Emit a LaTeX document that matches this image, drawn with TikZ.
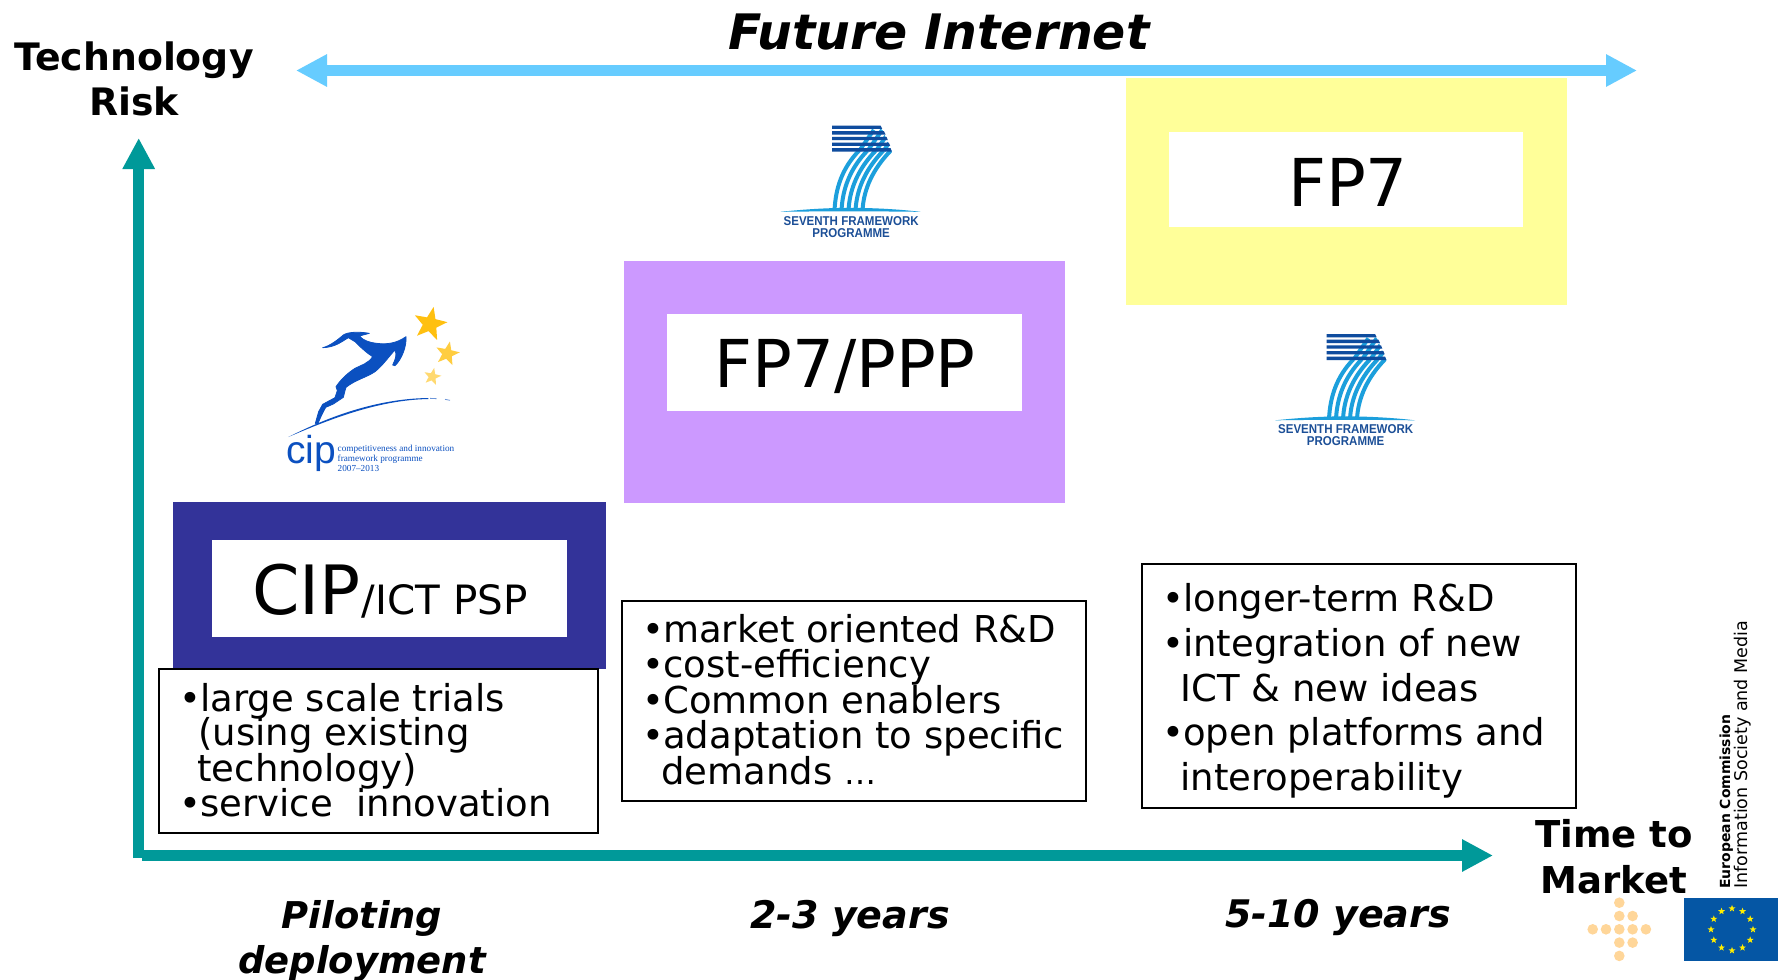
\documentclass[tikz,border=0pt]{standalone}
\usepackage{fontspec}
\setmainfont{DejaVu Sans}
\newfontfamily\liberasans{Liberation Sans}
\newfontfamily\liberaserif{Liberation Serif}
\newfontfamily\logosans[FakeStretch=0.9]{Liberation Sans Bold}
\usetikzlibrary{arrows.meta,shapes.geometric}
\definecolor{teal}{HTML}{009999}
\definecolor{sky}{HTML}{66CCFF}
\definecolor{pale}{HTML}{FFFF99}
\definecolor{lilac}{HTML}{CC99FF}
\definecolor{navy}{HTML}{333399}
\definecolor{fpdark}{HTML}{0F4C9E}
\definecolor{fplight}{HTML}{1C9FDC}
\definecolor{fptext}{HTML}{1C4F97}
\definecolor{cipblue}{HTML}{0B50C0}
\definecolor{gold}{HTML}{FFC010}
\definecolor{dotc}{HTML}{FFD699}
\definecolor{euflag}{HTML}{0556A4}
\definecolor{eustar}{HTML}{FFED00}
\newcommand{\itembul}{•\kern-0.5pt}
\tikzset{
  x=0.5pt,y=-0.5pt,
  axisline/.style={teal,line width=5.4pt,-{Triangle[length=15.5pt,width=15.2pt]}},
  spanline/.style={sky,line width=5.4pt,{Triangle[length=15.5pt,width=15.2pt]}-{Triangle[length=15.5pt,width=15.2pt]}},
  band/.style={anchor=north west,inner sep=0,outer sep=0},
  inset/.style={band,fill=white},
  listframe/.style={band,draw=black,line width=0.8pt,fill=white},
  bodyline/.style={anchor=base west,inner sep=0,font=\fontsize{18.5}{22}\selectfont},
  biglabel/.style={anchor=base,inner sep=0,font=\fontsize{33}{40}\selectfont},
  axislabel/.style={anchor=base,inner sep=0,font=\fontsize{18.5}{22}\selectfont\bfseries},
  slanted/.style={anchor=base,inner sep=0,font=\fontsize{18.45}{22}\selectfont\bfseries\itshape},
  dotmark/.style={circle,fill=dotc,inner sep=0,minimum size=5.3pt},
  starmark/.style={star,star points=5,star point ratio=2.4,inner sep=0,outer sep=0},
  fplogo/.pic={
    \begin{scope}[x=0.16667pt,y=-0.16667pt]
      \begin{scope}
        \clip (230,42) -- (375,42) -- (409,120) -- (230,120) -- cycle;
        \foreach \a in {310,335,360,383,405}{
          \draw[fplight,line width=2pt] (\a+45,55) -- (\a,120);
        }
      \end{scope}
      \foreach \a/\c in {310/237,335/258,360/279,383/300,405/321}{
        \draw[fplight,line width=2pt] (\a,118) .. controls (\a-50,170) and (\c+3,230) .. (\c,298);
      }
      \fill[fplight] (75,301) .. controls (150,293) and (220,289) .. (285,289)
        .. controls (350,289) and (430,293) .. (495,301) .. controls (350,299) and (200,299) .. (75,301) -- cycle;
      \fill[fpdark] (230,42) -- (375,42) -- (380,52) -- (230,52) -- cycle;
      \fill[fpdark] (230,59) -- (385,59) -- (390,69) -- (230,69) -- cycle;
      \fill[fpdark] (230,76) -- (393,76) -- (397,86) -- (230,86) -- cycle;
      \fill[fpdark] (230,93) -- (400,93) -- (404,103) -- (230,103) -- cycle;
      \fill[fpdark] (230,110) -- (405,110) -- (409,120) -- (230,120) -- cycle;
      \node (-a) at (287,341) [anchor=base,inner sep=0,text=fptext,font=\logosans\fontsize{6.4}{7}\selectfont] {SEVENTH FRAMEWORK};
      \node (-b) at (287,377) [anchor=base,inner sep=0,text=fptext,font=\logosans\fontsize{6.4}{7}\selectfont] {PROGRAMME};
    \end{scope}
  }
}
\begin{document}
\begin{tikzpicture}
\useasboundingbox (0,0) rectangle (1778,980);
\fill[white] (0,0) rectangle (1778,980);
% Axes
\coordinate (orig) at (138.7,858);
\coordinate (ytop) at (138.7,138);
\coordinate (xstart) at (142,855.5);
\coordinate (xend) at (1493,855.5);
\coordinate (spanl) at (296,70.5);
\coordinate (spanr) at (1637,70.5);
\draw[axisline] (orig) -- (ytop);
\draw[axisline] (xstart) -- (xend);
\draw[spanline] (spanl) -- (spanr);
% Titles
\node[slanted,font=\fontsize{24.45}{28}\selectfont\bfseries\itshape] (title) at (939,49) {Future Internet};
\node[axislabel,font=\fontsize{18.9}{22}\selectfont\bfseries] (tr1) at (134,70) {Technology};
\node[axislabel,font=\fontsize{18.9}{22}\selectfont\bfseries] (tr2) at (134,115) {Risk};
\node[axislabel] (tm1) at (1614,847) {Time to};
\node[axislabel] (tm2) at (1614,893) {Market};
\node[slanted] (p1) at (362,928) {Piloting};
\node[slanted] (p2) at (362,973) {deployment};
\node[slanted,font=\fontsize{19}{22}\selectfont\bfseries\itshape] (y23) at (850,928) {2-3 years};
\node[slanted,font=\fontsize{19}{22}\selectfont\bfseries\itshape] (y510) at (1338,927) {5-10 years};
% Coloured bands
\node[band,fill=pale,minimum width=220.5pt,minimum height=113.5pt] (fpband) at (1126,78) {};
\node[inset,minimum width=177pt,minimum height=47.7pt] (fpin) at (1169,131.5) {};
\node[biglabel] (fplab) at (1348,206) {FP7};
\node[band,fill=lilac,minimum width=220.5pt,minimum height=121pt] (ppband) at (624,261) {};
\node[inset,minimum width=177.5pt,minimum height=48.5pt] (ppin) at (667,314) {};
\node[biglabel] (pplab) at (845,387) {FP7/PPP};
\node[band,fill=navy,minimum width=216.5pt,minimum height=83.5pt] (cipband) at (173,502) {};
\node[inset,minimum width=177.5pt,minimum height=48.5pt] (cipin) at (212,540) {};
\node[anchor=base west,inner sep=0,font=\fontsize{34}{40}\selectfont] (ciplab) at (252,614) {CIP\kern0.5pt\fontsize{20.2}{24}\selectfont/ICT PSP};
% Lists
\node[listframe,minimum width=219.5pt,minimum height=82pt] (l1) at (159,669) {};
\node[bodyline] (l1a) at (179,711) {\itembul large scale trials};
\node[bodyline] (l1b) at (198,745.5) {(using existing};
\node[bodyline] (l1c) at (197,781) {technology)};
\node[bodyline] (l1d) at (179,816) {\itembul service\ \ innovation};
\node[listframe,minimum width=232pt,minimum height=100pt] (l2) at (622,601) {};
\node[bodyline] (l2a) at (642,642) {\itembul market oriented R\&D};
\node[bodyline] (l2b) at (642,677.5) {\itembul cost-efficiency};
\node[bodyline] (l2c) at (642,713) {\itembul Common enablers};
\node[bodyline] (l2d) at (642,748.5) {\itembul adaptation to specific};
\node[bodyline] (l2e) at (661,784.5) {demands {\fontsize{16}{20}\selectfont …}};
\node[listframe,minimum width=217pt,minimum height=122pt] (l3) at (1142,564) {};
\node[bodyline] (l3a) at (1162,611) {\itembul longer-term R\&D};
\node[bodyline] (l3b) at (1162,656) {\itembul integration of new};
\node[bodyline] (l3c) at (1180,701) {ICT \& new ideas};
\node[bodyline] (l3d) at (1162,745.5) {\itembul open platforms and};
\node[bodyline] (l3e) at (1180,790) {interoperability};
% Framework logos
\pic (fpa) at (755.5,111.5) {fplogo};
\pic (fpb) at (1250,320) {fplogo};
% CIP logo
\begin{scope}[shift={(280,300)},x=0.16667pt,y=-0.16667pt]
  \filldraw[cipblue,line width=0.4pt,line join=round] (128,143) .. controls (150,138) and (175,118) .. (190,105) .. controls (205,95) and (240,95) .. (268,100)
    -- (238,108) .. controls (250,122) and (270,128) .. (290,130) .. controls (320,134) and (350,130) .. (378,110)
    .. controls (380,140) and (365,178) .. (345,197) -- (338,195) .. controls (345,180) and (352,165) .. (345,150)
    .. controls (330,165) and (310,195) .. (285,215) .. controls (260,232) and (225,240) .. (198,262)
    -- (195,272) -- (190,292) -- (160,312) -- (137,322) -- (125,345) -- (113,372) -- (106,370)
    -- (116,335) -- (128,313) -- (165,293) -- (172,272) -- (168,260) .. controls (185,235) and (205,218) .. (225,205)
    .. controls (245,195) and (265,190) .. (278,170) .. controls (262,160) and (245,145) .. (225,125)
    -- (205,113) .. controls (185,125) and (165,142) .. (128,143) -- cycle;
  \fill[cipblue] (25,411) .. controls (130,358) and (280,296) .. (445,294) -- (445,297) .. controls (290,300) and (140,362) .. (25,411) -- cycle;
  \draw[cipblue!60,line width=0.4pt] (450,295) -- (470,296) (495,298) -- (510,301);
  \node[starmark,fill=gold,minimum size=17.5pt,rotate=-12] (s1) at (450,72) {};
  \node[starmark,fill=gold!80!white,minimum size=12.5pt,rotate=-12] (s2) at (502,161) {};
  \node[starmark,fill=gold!60!white,minimum size=9pt,rotate=-12] (s3) at (457,230) {};
  \node[anchor=base west,inner sep=0,text=cipblue,font=\liberasans\fontsize{19.5}{22}\selectfont] (cipa) at (18,490) {cip};
  \node[anchor=base west,inner sep=0,text=cipblue,font=\liberaserif\fontsize{4.6}{6}\selectfont] (cipb) at (172,455) {competitiveness and innovation};
  \node[anchor=base west,inner sep=0,text=cipblue,font=\liberaserif\fontsize{4.6}{6}\selectfont] (cipc) at (172,485) {framework programme};
  \node[anchor=base west,inner sep=0,text=cipblue,font=\liberaserif\fontsize{4.6}{6}\selectfont] (cipd) at (172,515) {2007–2013};
\end{scope}
% EC signature
\foreach \i/\px/\py in {1/-2/0,2/-1/0,3/0/0,4/1/0,5/2/0,6/0/-2,7/0/-1,8/0/1,9/0/2,10/1/-1,11/1/1}{
  \node[dotmark] (d\i) at ({1619.3+13.3*\px},{929.3+13.3*\py}) {};
}
\node[band,fill=euflag,minimum width=47pt,minimum height=31.7pt] (flag) at (1684,898) {};
\foreach \i in {1,...,12}{
  \node[starmark,fill=eustar,minimum size=3.6pt] (eu\i) at ({1732+21*cos(30*\i)},{929.5+21*sin(30*\i)}) {};
}
\node[anchor=base west,inner sep=0,rotate=90,font=\fontsize{6.97}{8}\selectfont\bfseries] (ec1) at (1730,889) {European Commission};
\node[anchor=base west,inner sep=0,rotate=90,font=\fontsize{8.75}{10}\selectfont] (ec2) at (1747,889) {Information Society and Media};
\end{tikzpicture}
\end{document}
